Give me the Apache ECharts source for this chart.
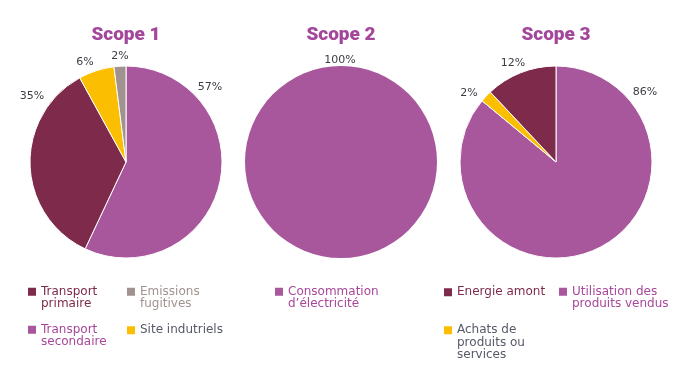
<!DOCTYPE html>
<html><head><meta charset="utf-8">
<script src="https://cdn.jsdelivr.net/npm/echarts@6/dist/echarts.min.js"></script>
<style>html,body{margin:0;padding:0;background:#fff}#c{width:689px;height:374px}</style>
</head><body><div id="c"></div>
<script>
// ---- data ----
const titles = ['Scope 1', 'Scope 2', 'Scope 3'];
const scope1Names = ['Transport secondaire', 'Transport primaire', 'Site indutriels', 'Emissions fugitives'];
const scope1Values = [57, 35, 6, 2];
const scope2Names = ['Consommation d’électricité'];
const scope2Values = [100];
const scope3Names = ['Utilisation des produits vendus', 'Achats de produits ou services', 'Energie amont'];
const scope3Values = [86, 2, 12];

// ---- styles ----
const PURPLE = '#A8579C', DARK = '#7D2A4B', YELLOW = '#FBBE00', GREY = '#A0938F';
const colorOf = {
  'Transport secondaire': PURPLE, 'Transport primaire': DARK, 'Site indutriels': YELLOW, 'Emissions fugitives': GREY,
  'Consommation d’électricité': PURPLE,
  'Utilisation des produits vendus': PURPLE, 'Achats de produits ou services': YELLOW, 'Energie amont': DARK
};
const legendText = {
  'Transport primaire': 'Transport\nprimaire', 'Emissions fugitives': 'Emissions\nfugitives',
  'Transport secondaire': 'Transport\nsecondaire', 'Site indutriels': 'Site indutriels',
  'Consommation d’électricité': 'Consommation\nd’électricité',
  'Energie amont': 'Energie amont', 'Utilisation des produits vendus': 'Utilisation des\nproduits vendus',
  'Achats de produits ou services': 'Achats de\nproduits ou\nservices'
};
const legendColor = {
  'Transport primaire': '#7D2A4B', 'Emissions fugitives': '#A0938F', 'Transport secondaire': '#A8479A',
  'Site indutriels': '#555A66', 'Consommation d’électricité': '#A8479A', 'Energie amont': '#7D2A4B',
  'Utilisation des produits vendus': '#A8479A', 'Achats de produits ou services': '#555A66'
};
// icon top-left positions for legend items
const legendPos = {
  'Transport primaire': [28, 288], 'Emissions fugitives': [127, 288],
  'Transport secondaire': [28, 326], 'Site indutriels': [127, 326],
  'Consommation d’électricité': [275, 288],
  'Energie amont': [444, 288], 'Utilisation des produits vendus': [559, 288],
  'Achats de produits ou services': [444, 326]
};
const centers = [[126, 162], [341, 162], [556, 162]];
const R = 96;
// label offsets from pie centre (label centre), per series
const labelOffsets = [
  [[84, -75], [-94, -66], [-41, -100], [-6, -106]],
  [[-1, -102]],
  [[89, -70], [-87, -69], [-43, -99]]
];
const LH = 12.5;

const chart = echarts.init(document.getElementById('c'), null, {renderer: 'canvas'});
const allNames = [scope1Names, scope2Names, scope3Names];
const allValues = [scope1Values, scope2Values, scope3Values];

const series = allNames.map((names, si) => ({
  type: 'pie',
  center: centers[si],
  radius: R,
  startAngle: 90,
  clockwise: true,
  avoidLabelOverlap: false,
  animation: false,
  silent: true,
  itemStyle: {borderColor: '#fff', borderWidth: si === 1 ? 0 : 1},
  label: {
    show: true, position: 'outside', formatter: '{c}%',
    color: '#3c3c46', fontFamily: 'DejaVu Sans', fontSize: 11
  },
  labelLine: {show: false},
  labelLayout: function (p) {
    const o = labelOffsets[p.seriesIndex][p.dataIndex];
    const c = centers[p.seriesIndex];
    return {x: c[0] + o[0], y: c[1] + o[1], align: 'center', verticalAlign: 'middle'};
  },
  data: names.map((n, i) => ({name: n, value: allValues[si][i], itemStyle: {color: colorOf[n]}}))
}));

const legends = Object.keys(legendPos).map(name => {
  const lines = legendText[name].split('\n');
  const n = lines.length;
  // pad with blank lines before so the first text line sits level with the icon
  const padded = new Array(n - 1).fill('\u00a0').concat(lines).join('\n');
  const top = Math.round(legendPos[name][1] + 4 - (2 * n - 1) * LH / 2);
  return {
    data: [name],
    left: legendPos[name][0],
    top: top,
    padding: 0,
    icon: 'rect', itemWidth: 8, itemHeight: 8, itemGap: 4,
    itemStyle: {borderWidth: 0},
    selectedMode: false,
    formatter: () => padded,
    textStyle: {
      color: legendColor[name], fontFamily: 'DejaVu Sans', fontSize: 12, lineHeight: LH
    }
  };
});

const titleOpts = titles.map((t, i) => ({
  text: t, left: centers[i][0], top: 26, textAlign: 'center', padding: 0,
  textStyle: {color: '#A3479B', fontFamily: 'Roboto', fontWeight: 900, fontSize: 19}
}));

chart.setOption({
  backgroundColor: '#fff',
  animation: false,
  title: titleOpts,
  legend: legends,
  series: series
});
</script></body></html>
